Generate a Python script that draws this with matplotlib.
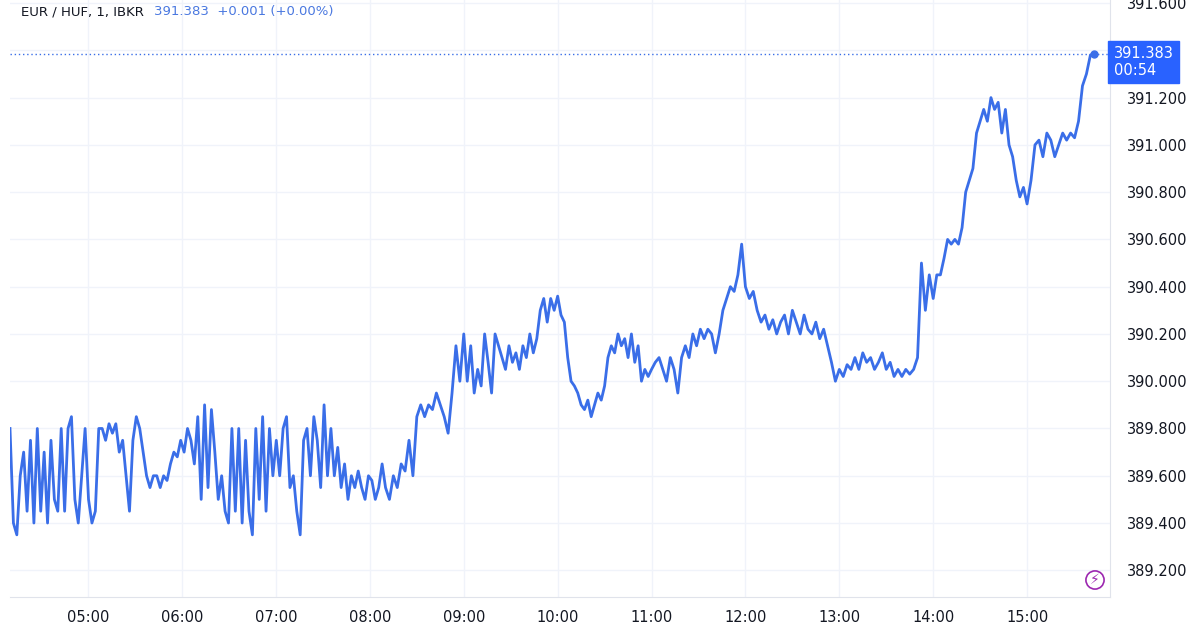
import matplotlib
matplotlib.use("Agg")
import matplotlib.pyplot as plt
import numpy as np

seg_hours = [(4+10/60, 8+10/60), (8+10/60, 9), (9, 10), (10, 11), (11, 12), (12, 13), (13, 14), (14, 15), (15, 15+43/60)]
seg_values = [
 [389.8,389.4,389.35,389.6,389.7,389.45,389.75,389.4,389.8,389.45,389.7,389.4,389.75,389.5,389.45,389.8,389.45,389.8,389.85,389.5,389.4,389.6,389.8,389.5,389.4,389.45,389.8,389.8,389.75,389.82,389.78,389.82,389.7,389.75,389.6,389.45,389.75,389.85,389.8,389.7,389.6,389.55,389.6,389.6,389.55,389.6,389.58,389.65,389.7,389.68,389.75,389.7,389.8,389.75,389.65,389.85,389.5,389.9,389.55,389.88,389.7,389.5,389.6,389.45,389.4,389.8,389.45,389.8,389.4,389.75,389.45,389.35,389.8,389.5,389.85,389.45,389.8,389.6,389.75,389.6,389.8,389.85,389.55,389.6,389.45,389.35,389.75,389.8,389.6,389.85,389.75,389.55,389.9,389.6,389.8,389.6,389.72,389.55,389.65,389.5,389.6,389.55,389.62,389.55,389.5,389.6,389.58,389.5,389.55,389.65],
 [389.55,389.5,389.6,389.55,389.65,389.62,389.75,389.6,389.85,389.9,389.85,389.9,389.88,389.95,389.9,389.85,389.78,389.95,390.15,390.0],
 [390.2,390.0,390.15,389.95,390.05,389.98,390.2,390.08,389.95,390.2,390.15,390.1,390.05,390.15,390.08,390.12,390.05,390.15,390.1,390.2,390.12,390.18,390.3,390.35,390.25,390.35,390.3],
 [390.36,390.28,390.25,390.1,390.0,389.98,389.95,389.9,389.88,389.92,389.85,389.9,389.95,389.92,389.98,390.1,390.15,390.12,390.2,390.15,390.18,390.1,390.2,390.08,390.15,390.0,390.05,390.02],
 [390.05,390.08,390.1,390.05,390.0,390.1,390.05,389.95,390.1,390.15,390.1,390.2,390.15,390.22,390.18,390.22,390.2,390.12,390.2,390.3,390.35,390.4,390.38,390.45,390.58],
 [390.4,390.35,390.38,390.3,390.25,390.28,390.22,390.26,390.2,390.25,390.28,390.2,390.3,390.25,390.2,390.28,390.22,390.2,390.25,390.18,390.22,390.15,390.08,390.0],
 [390.05,390.02,390.07,390.05,390.1,390.05,390.12,390.08,390.1,390.05,390.08,390.12,390.05,390.08,390.02,390.05,390.02,390.05,390.03,390.05,390.1,390.5,390.3,390.45],
 [390.35,390.45,390.45,390.52,390.6,390.58,390.6,390.58,390.65,390.8,390.85,390.9,391.05,391.1,391.15,391.1,391.2,391.15,391.18,391.05,391.15,391.0,390.95,390.85,390.78,390.82],
 [390.75,390.85,391.0,391.02,390.95,391.05,391.02,390.95,391.0,391.05,391.02,391.05,391.03,391.1,391.25,391.3,391.38,391.383],
]
yticks = [389.2, 389.4, 389.6, 389.8, 390.0, 390.2, 390.4, 390.6, 390.8, 391.0, 391.2, 391.4, 391.6]
ylabels = ["389.200","389.400","389.600","389.800","390.000","390.200","390.400","390.600","390.800","391.000","391.200","","391.600"]
xticks = [5, 6, 7, 8, 9, 10, 11, 12, 13, 14, 15]
xlabels = ["05:00","06:00","07:00","08:00","09:00","10:00","11:00","12:00","13:00","14:00","15:00"]
last_price = 391.383

t, v = [], []
for (a, b), vals in zip(seg_hours, seg_values):
    tt = np.linspace(a, b, len(vals), endpoint=(b == seg_hours[-1][1]))
    t.extend(tt); v.extend(vals)

blue = "#2962ff"
line_c = "#3a6ee8"
fig = plt.figure(figsize=(12, 6.3), dpi=100)
ax = fig.add_axes([10/1200, 33/630, 1100/1200, 597/630])
ax.plot(t, v, color=line_c, lw=2)
ax.plot([t[-1]], [v[-1]], "o", color=line_c, ms=5)
ax.axhline(last_price, color=line_c, ls=(0, (1, 2)), lw=1)
ax.set_xlim(4+10/60, 15+53/60)
ax.set_ylim(389.087, 391.613)
ax.set_yticks(yticks)
ax.set_yticklabels(ylabels)
ax.set_xticks(xticks)
ax.set_xticklabels(xlabels)
ax.yaxis.tick_right()
ax.tick_params(length=0, labelsize=10.5, colors="#131722")
ax.tick_params(axis="y", pad=12)
ax.tick_params(axis="x", pad=9)
ax.grid(color="#f0f3fa", lw=1)
for s in ["top", "left"]:
    ax.spines[s].set_visible(False)
ax.spines["right"].set_color("#e0e3eb")
ax.spines["bottom"].set_color("#e0e3eb")
t1 = fig.text(21/1200, (630-12)/630, "EUR / HUF, 1, IBKR", fontsize=9.5, color="#131722", va="center")
ax.annotate("391.383  +0.001 (+0.00%)", xy=(1, 0.5), xycoords=t1, xytext=(7, 0), textcoords="offset points",
            fontsize=9.5, color="#4a78e0", va="center")
fig.text(1110/1200+0.003, (630-62)/630, "391.383\n00:54", color="white", fontsize=10.5, va="center", ha="left",
         linespacing=1.1, bbox=dict(boxstyle="square,pad=0.35", fc=blue, ec=blue))
ax.text(1085/1100, 17/597, "⚡", transform=ax.transAxes, fontsize=10, color="#9c27b0", ha="center", va="center",
        bbox=dict(boxstyle="circle,pad=0.15", fc="white", ec="#9c27b0", lw=1.2))
fig.savefig("out.png", dpi=100)
